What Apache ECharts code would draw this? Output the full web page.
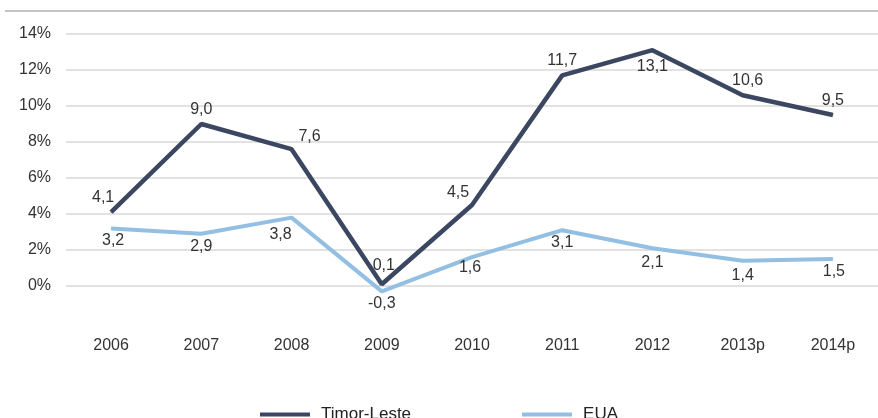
<!DOCTYPE html>
<html>
<head>
<meta charset="utf-8">
<script src="https://cdn.jsdelivr.net/npm/echarts@6/dist/echarts.min.js"></script>
<style>
  html, body { margin: 0; padding: 0; background: #fff; }
  #chart { width: 878px; height: 418px; }
</style>
</head>
<body>
<div id="chart"></div>
<script>
// Growth rates (%), Timor-Leste vs EUA
const years = ['2006', '2007', '2008', '2009', '2010', '2011', '2012', '2013p', '2014p'];
const timorLeste = [4.1, 9.0, 7.6, 0.1, 4.5, 11.7, 13.1, 10.6, 9.5];
const eua = [3.2, 2.9, 3.8, -0.3, 1.6, 3.1, 2.1, 1.4, 1.5];
const yTicks = [0, 2, 4, 6, 8, 10, 12, 14];

// Label placement per point: [position, dx, dy]
const timorLabelPos = [
  ['top', -8, 0], ['top', 0, 0], ['top', 18, 2], ['top', 2, -4], ['top', -14, 2],
  ['top', 0, 0], ['bottom', 0, 2], ['top', 5, 0], ['top', 0, 0]
];
const euaLabelPos = [
  ['bottom', 2, -2], ['bottom', 0, -2], ['bottom', -11, 2], ['bottom', 0, -2], ['bottom', -2, -4],
  ['bottom', 0, -2], ['bottom', 0, 0], ['bottom', 0, 0], ['bottom', 1, -2]
];

const fmt = v => v.toFixed(1).replace('.', ',');

function buildData(values, placements) {
  return values.map((v, i) => ({
    value: v,
    label: {
      position: placements[i][0],
      offset: [placements[i][1], placements[i][2]]
    }
  }));
}

const chart = echarts.init(document.getElementById('chart'), null, { renderer: 'canvas' });

const labelStyle = {
  show: true,
  formatter: p => fmt(p.value),
  fontFamily: 'Liberation Sans, Arial, sans-serif',
  fontSize: 16,
  color: '#333',
  distance: 6
};

chart.setOption({
  animation: false,
  backgroundColor: '#fff',
  textStyle: { fontFamily: 'Liberation Sans, Arial, sans-serif' },
  graphic: [{
    type: 'line',
    shape: { x1: 5, y1: 11, x2: 878, y2: 11 },
    style: { stroke: '#b0b0b0', lineWidth: 1.5 }
  }],
  grid: { left: 66, top: 34, width: 822, height: 252, containLabel: false },
  legend: {
    left: 255,
    top: 401,
    itemWidth: 50,
    itemHeight: 4,
    itemGap: 111,
    icon: 'rect',
    textStyle: { fontSize: 17, color: '#222', padding: [0, 0, 0, 6] },
    data: ['Timor-Leste', 'EUA']
  },
  xAxis: {
    type: 'category',
    data: years,
    boundaryGap: true,
    axisLine: { show: false },
    axisTick: { show: false },
    axisLabel: { margin: 52, fontSize: 16, color: '#333' }
  },
  yAxis: {
    type: 'value',
    min: yTicks[0],
    max: yTicks[yTicks.length - 1],
    interval: 2,
    axisLine: { show: false },
    axisTick: { show: false },
    axisLabel: { margin: 15, fontSize: 16, color: '#333', formatter: v => v + '%' },
    splitLine: { lineStyle: { color: '#d9d9d9', width: 1.5 } }
  },
  series: [
    {
      name: 'Timor-Leste',
      type: 'line',
      data: buildData(timorLeste, timorLabelPos),
      clip: false,
      symbol: 'circle',
      symbolSize: 1,
      lineStyle: { color: '#3b4760', width: 4.5 },
      itemStyle: { color: '#3b4760' },
      label: labelStyle,
      z: 3
    },
    {
      name: 'EUA',
      type: 'line',
      data: buildData(eua, euaLabelPos),
      clip: false,
      symbol: 'circle',
      symbolSize: 1,
      lineStyle: { color: '#93bfe3', width: 4 },
      itemStyle: { color: '#93bfe3' },
      label: labelStyle,
      z: 2
    }
  ]
});
</script>
</body>
</html>
